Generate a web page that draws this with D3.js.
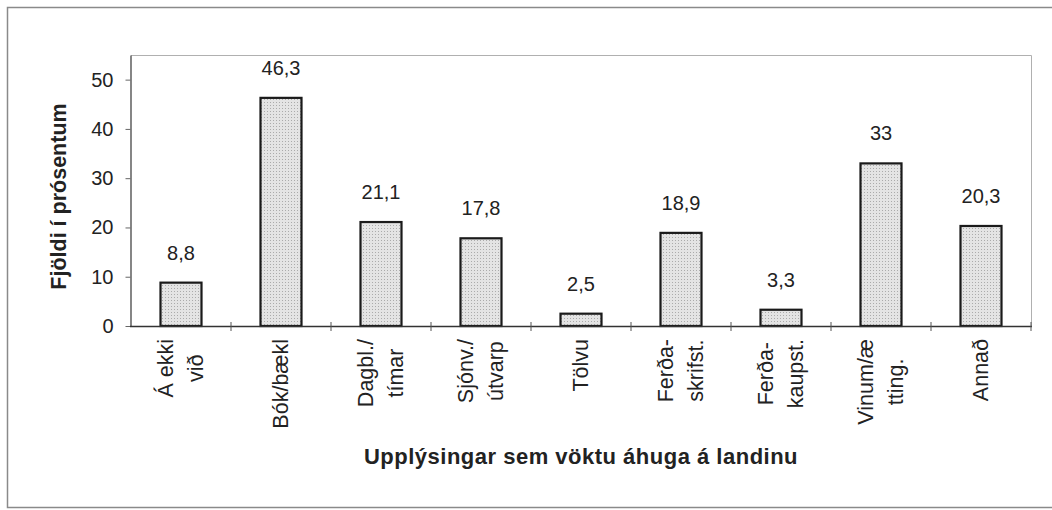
<!DOCTYPE html>
<html>
<head>
<meta charset="utf-8">
<script src="https://cdn.jsdelivr.net/npm/d3@7"></script>
<style>
  body { margin: 0; background: white; }
  text { font-family: "Liberation Sans", Arial, sans-serif; fill: #222; }
</style>
</head>
<body>
<div id="chart"></div>
<script>
// categories, split on the lines they wrap on
var categoryLines = [
	["Á ekki", "við"],
	["Bók/bækl"],
	["Dagbl./", "tímar"],
	["Sjónv./", "útvarp"],
	["Tölvu"],
	["Ferða-", "skrifst."],
	["Ferða-", "kaupst."],
	["Vinum/æ", "tting."],
	["Annað"]
]
var categories = categoryLines.map(function(d){ return d.join(" ") })
var values = [8.8, 46.3, 21.1, 17.8, 2.5, 18.9, 3.3, 33, 20.3]
var yTicks = [0, 10, 20, 30, 40, 50]
var yTitle = "Fjöldi í prósentum"
var xTitle = "Upplýsingar sem vöktu áhuga á landinu"

var W = 1052, H = 510
//note: "top" is taken by window.top, so plot* names
var plotLeft = 131, plotRight = 1031, plotTop = 55, plotBottom = 326

var svg = d3.select("#chart").append("svg")
	.attr("width", W)
	.attr("height", H)

//dotted fill like the scan
var pat = svg.append("defs").append("pattern")
	.attr("id", "dots")
	.attr("width", 3)
	.attr("height", 3)
	.attr("patternUnits", "userSpaceOnUse")
pat.append("rect").attr("width", 3).attr("height", 3).style("fill", "#e4e4e4")
pat.append("rect").attr("width", 1).attr("height", 1).style("fill", "#ababab")

//outer frame
svg.append("rect")
	.attr("x", 7.5).attr("y", 7.5)
	.attr("width", 1070).attr("height", 500)
	.style("fill", "none")
	.style("stroke", "#8a8a8a")
	.style("stroke-width", 1.5)

var x = d3.scaleBand()
	.domain(categories)
	.range([plotLeft, plotRight])
	.paddingInner(0.59)
	.paddingOuter(0.295)

var y = d3.scaleLinear()
	.domain([0, 55])
	.range([plotBottom, plotTop])

//plot box top and right
svg.append("path")
	.attr("d", "M" + plotLeft + "," + (plotTop + 0.5) + "H" + (plotRight + 0.5) + "V" + plotBottom)
	.style("fill", "none")
	.style("stroke", "#b0b0b0")
	.style("stroke-width", 1)

//y axis
var yAxis = svg.append("g")
	.attr("transform", "translate(" + (plotLeft - 0.5) + ",0)")
	.call(d3.axisLeft(y).tickValues(yTicks).tickSizeInner(5).tickSizeOuter(0).tickPadding(12))
yAxis.select(".domain").style("stroke", "#444").style("stroke-width", 1.3)
yAxis.selectAll(".tick line").style("stroke", "#666")
yAxis.selectAll(".tick text")
	.style("font-family", "'Liberation Sans', Arial, sans-serif")
	.style("font-size", "20px")
	.style("fill", "#222")

//bars
svg.selectAll(".bar")
	.data(values)
	.enter()
	.append("rect")
	.attr("class", "bar")
	.attr("x", function(d, i){ return x(categories[i]) })
	.attr("y", function(d){ return y(d) })
	.attr("width", x.bandwidth())
	.attr("height", function(d){ return y(0) - y(d) })
	.style("fill", "url(#dots)")
	.style("stroke", "#1a1a1a")
	.style("stroke-width", 2.2)

//value labels
svg.selectAll(".val")
	.data(values)
	.enter()
	.append("text")
	.attr("class", "val")
	.attr("x", function(d, i){ return x(categories[i]) + x.bandwidth() / 2 })
	.attr("y", function(d){ return y(d) - 23 })
	.attr("text-anchor", "middle")
	.style("font-size", "20px")
	.text(function(d){ return String(d).replace(".", ",") })

//x axis line
svg.append("line")
	.attr("x1", plotLeft - 1).attr("x2", plotRight + 1)
	.attr("y1", plotBottom + 0.5).attr("y2", plotBottom + 0.5)
	.style("stroke", "#333")
	.style("stroke-width", 1.5)

//ticks between categories
svg.selectAll(".xtick")
	.data(d3.range(1, categories.length + 1))
	.enter()
	.append("line")
	.attr("class", "xtick")
	.attr("x1", function(i){ return plotLeft + i * x.step() })
	.attr("x2", function(i){ return plotLeft + i * x.step() })
	.attr("y1", plotBottom - 4)
	.attr("y2", plotBottom + 5)
	.style("stroke", "#555")
	.style("stroke-width", 1)

//rotated category labels, lines centred on each other, block hung from the axis
var lineGap = 30
var labelTop = 339
var lab = svg.selectAll(".cat")
	.data(categoryLines)
	.enter()
	.append("g")
	.attr("class", "cat")
	.attr("transform", function(d, i){
		return "translate(" + (x(categories[i]) + x.bandwidth() / 2 - 1) + "," + labelTop + ") rotate(-90)"
	})

lab.each(function(lines){
	var g = d3.select(this)
	var n = lines.length
	var texts = g.selectAll("text")
		.data(lines)
		.enter()
		.append("text")
		.attr("text-anchor", "middle")
		.attr("dy", "0.35em")
		.attr("y", function(d, j){ return (j - (n - 1) / 2) * lineGap })
		.style("font-size", "21.5px")
		.text(function(d){ return d })
	var maxLen = 0
	texts.each(function(){ maxLen = Math.max(maxLen, this.getComputedTextLength()) })
	texts.attr("x", -maxLen / 2)
})

//axis titles
svg.append("text")
	.attr("transform", "translate(65.5," + ((plotTop + plotBottom) / 2 + 6) + ") rotate(-90)")
	.attr("text-anchor", "middle")
	.style("font-size", "21.5px")
	.style("font-weight", "bold")
	.text(yTitle)

svg.append("text")
	.attr("x", (plotLeft + plotRight) / 2)
	.attr("y", 464)
	.attr("text-anchor", "middle")
	.style("font-size", "22px")
	.style("font-weight", "bold")
	.style("letter-spacing", "0.5px")
	.text(xTitle)
</script>
</body>
</html>
